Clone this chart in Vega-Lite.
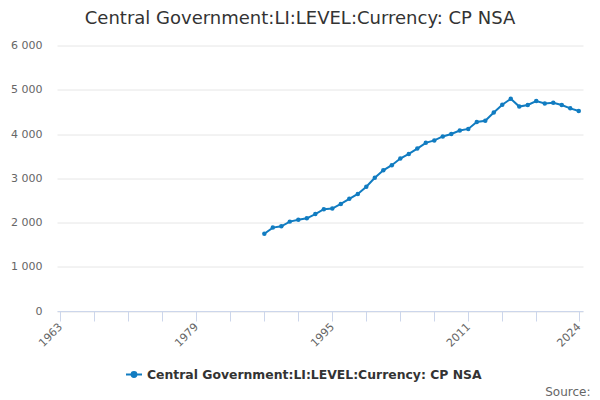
{
  "$schema": "https://vega.github.io/schema/vega-lite/v6.json",
  "width": 526,
  "height": 265.5,
  "autosize": {"type": "none"},
  "padding": {"left": 57, "top": 45.5, "right": 17, "bottom": 89},
  "background": "white",
  "title": {
    "text": "Central Government:LI:LEVEL:Currency: CP NSA",
    "anchor": "middle",
    "dx": -20,
    "offset": 12,
    "font": "DejaVu Sans",
    "fontSize": 18,
    "fontWeight": "normal",
    "color": "#333333"
  },
  "config": {
    "view": {"stroke": null},
    "font": "DejaVu Sans"
  },
  "data": {
    "values": [
      {"year": 1987, "value": 1745, "series": "Central Government:LI:LEVEL:Currency: CP NSA"},
      {"year": 1988, "value": 1885, "series": "Central Government:LI:LEVEL:Currency: CP NSA"},
      {"year": 1989, "value": 1915, "series": "Central Government:LI:LEVEL:Currency: CP NSA"},
      {"year": 1990, "value": 2020, "series": "Central Government:LI:LEVEL:Currency: CP NSA"},
      {"year": 1991, "value": 2060, "series": "Central Government:LI:LEVEL:Currency: CP NSA"},
      {"year": 1992, "value": 2095, "series": "Central Government:LI:LEVEL:Currency: CP NSA"},
      {"year": 1993, "value": 2190, "series": "Central Government:LI:LEVEL:Currency: CP NSA"},
      {"year": 1994, "value": 2300, "series": "Central Government:LI:LEVEL:Currency: CP NSA"},
      {"year": 1995, "value": 2315, "series": "Central Government:LI:LEVEL:Currency: CP NSA"},
      {"year": 1996, "value": 2420, "series": "Central Government:LI:LEVEL:Currency: CP NSA"},
      {"year": 1997, "value": 2535, "series": "Central Government:LI:LEVEL:Currency: CP NSA"},
      {"year": 1998, "value": 2645, "series": "Central Government:LI:LEVEL:Currency: CP NSA"},
      {"year": 1999, "value": 2810, "series": "Central Government:LI:LEVEL:Currency: CP NSA"},
      {"year": 2000, "value": 3010, "series": "Central Government:LI:LEVEL:Currency: CP NSA"},
      {"year": 2001, "value": 3180, "series": "Central Government:LI:LEVEL:Currency: CP NSA"},
      {"year": 2002, "value": 3295, "series": "Central Government:LI:LEVEL:Currency: CP NSA"},
      {"year": 2003, "value": 3445, "series": "Central Government:LI:LEVEL:Currency: CP NSA"},
      {"year": 2004, "value": 3550, "series": "Central Government:LI:LEVEL:Currency: CP NSA"},
      {"year": 2005, "value": 3670, "series": "Central Government:LI:LEVEL:Currency: CP NSA"},
      {"year": 2006, "value": 3800, "series": "Central Government:LI:LEVEL:Currency: CP NSA"},
      {"year": 2007, "value": 3855, "series": "Central Government:LI:LEVEL:Currency: CP NSA"},
      {"year": 2008, "value": 3945, "series": "Central Government:LI:LEVEL:Currency: CP NSA"},
      {"year": 2009, "value": 4000, "series": "Central Government:LI:LEVEL:Currency: CP NSA"},
      {"year": 2010, "value": 4080, "series": "Central Government:LI:LEVEL:Currency: CP NSA"},
      {"year": 2011, "value": 4115, "series": "Central Government:LI:LEVEL:Currency: CP NSA"},
      {"year": 2012, "value": 4270, "series": "Central Government:LI:LEVEL:Currency: CP NSA"},
      {"year": 2013, "value": 4300, "series": "Central Government:LI:LEVEL:Currency: CP NSA"},
      {"year": 2014, "value": 4485, "series": "Central Government:LI:LEVEL:Currency: CP NSA"},
      {"year": 2015, "value": 4660, "series": "Central Government:LI:LEVEL:Currency: CP NSA"},
      {"year": 2016, "value": 4795, "series": "Central Government:LI:LEVEL:Currency: CP NSA"},
      {"year": 2017, "value": 4620, "series": "Central Government:LI:LEVEL:Currency: CP NSA"},
      {"year": 2018, "value": 4655, "series": "Central Government:LI:LEVEL:Currency: CP NSA"},
      {"year": 2019, "value": 4745, "series": "Central Government:LI:LEVEL:Currency: CP NSA"},
      {"year": 2020, "value": 4690, "series": "Central Government:LI:LEVEL:Currency: CP NSA"},
      {"year": 2021, "value": 4705, "series": "Central Government:LI:LEVEL:Currency: CP NSA"},
      {"year": 2022, "value": 4655, "series": "Central Government:LI:LEVEL:Currency: CP NSA"},
      {"year": 2023, "value": 4580, "series": "Central Government:LI:LEVEL:Currency: CP NSA"},
      {"year": 2024, "value": 4520, "series": "Central Government:LI:LEVEL:Currency: CP NSA"}
    ]
  },
  "mark": {
    "type": "line",
    "strokeWidth": 2,
    "point": {"filled": true, "size": 20}
  },
  "encoding": {
    "x": {
      "field": "year",
      "type": "quantitative",
      "scale": {"domain": [1962.6, 2024.5], "nice": false, "zero": false},
      "axis": {
        "values": [1963, 1967, 1971, 1975, 1979, 1983, 1987, 1991, 1995, 1999, 2003, 2007, 2011, 2015, 2019, 2024],
        "labelExpr": "indexof([1963, 1979, 1995, 2011, 2024], datum.value) >= 0 ? datum.value + '' : ''",
        "labelAngle": -45,
        "labelAlign": "right",
        "labelBaseline": "middle",
        "labelPadding": 4,
        "labelFontSize": 11,
        "labelColor": "#666666",
        "labelOverlap": false,
        "domainColor": "#ccd6eb",
        "tickColor": "#ccd6eb",
        "tickSize": 10,
        "grid": false,
        "title": "Source:",
        "titleAnchor": "end",
        "titleAlign": "right",
        "titleBaseline": "alphabetic",
        "titleX": 533,
        "titleY": 84,
        "titleFontSize": 12,
        "titleFontWeight": "normal",
        "titleColor": "#666666"
      }
    },
    "y": {
      "field": "value",
      "type": "quantitative",
      "scale": {"domain": [0, 6000], "nice": false},
      "axis": {
        "values": [0, 1000, 2000, 3000, 4000, 5000, 6000],
        "labelExpr": "replace(format(datum.value, ','), ',', ' ')",
        "labelFontSize": 11,
        "labelColor": "#666666",
        "labelPadding": 15,
        "domain": false,
        "ticks": false,
        "gridColor": "#e6e6e6",
        "title": null
      }
    },
    "color": {
      "field": "series",
      "type": "nominal",
      "scale": {"range": ["#117cc1"]},
      "legend": {
        "title": null,
        "orient": "none",
        "legendX": 68,
        "legendY": 320,
        "symbolType": "M-1,0L1,0M-0.3,0A0.3,0.3,0,1,1,0.3,0A0.3,0.3,0,1,1,-0.3,0Z",
        "symbolSize": 256,
        "symbolStrokeWidth": 2,
        "symbolFillColor": "#117cc1",
        "symbolStrokeColor": "#117cc1",
        "labelFontSize": 12.4,
        "labelFontWeight": "bold",
        "labelColor": "#333333",
        "labelLimit": 500,
        "labelOffset": 4
      }
    }
  }
}
